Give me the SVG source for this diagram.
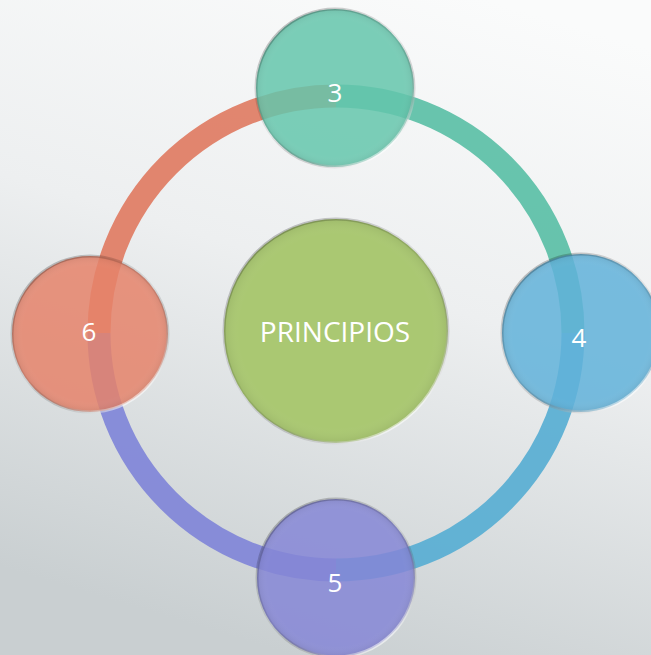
<svg xmlns="http://www.w3.org/2000/svg" width="651" height="655" viewBox="0 0 651 655">
  <defs>
    <linearGradient id="bg" x1="0.75" y1="0" x2="0.45" y2="1">
      <stop offset="0" stop-color="#fafbfb"/>
      <stop offset="0.45" stop-color="#edeff0"/>
      <stop offset="1" stop-color="#c9cfd1"/>
    </linearGradient>
    <linearGradient id="rim" x1="0.2" y1="0.1" x2="0.8" y2="0.9">
      <stop offset="0" stop-color="#000" stop-opacity="0.22"/>
      <stop offset="0.5" stop-color="#000" stop-opacity="0.06"/>
      <stop offset="1" stop-color="#fff" stop-opacity="0.55"/>
    </linearGradient>
    <radialGradient id="shade" cx="0.5" cy="0.5" r="0.5">
      <stop offset="0.86" stop-color="#fff" stop-opacity="0"/>
      <stop offset="1" stop-color="#000" stop-opacity="0.07"/>
    </radialGradient>
    <style>
      .arc { fill: none; stroke-width: 23; stroke-linecap: butt; opacity: 0.92; }
      .sat { opacity: 0.85; }
      .rim { fill: url(#shade); stroke: url(#rim); stroke-width: 3; }
      .lbl { font-family: "Open Sans", "Liberation Sans", sans-serif; fill: #ffffff; text-anchor: middle; }
      .num { font-size: 26px; }
      .main { font-size: 28px; }
    </style>
  </defs>
  <rect x="0" y="0" width="651" height="655" fill="url(#bg)"/>

  <g id="connectors">
    <path class="arc" d="M 336 96 A 237 237 0 0 1 573 333" stroke="#5bbfa6"/>
    <path class="arc" d="M 573 333 A 237 237 0 0 1 336 570" stroke="#58aed3"/>
    <path class="arc" d="M 336 570 A 237 237 0 0 1 99 333" stroke="#8085d8"/>
    <path class="arc" d="M 99 333 A 237 237 0 0 1 336 96" stroke="#e07c63"/>
  </g>

  <g id="node-principios">
    <circle cx="336" cy="331" r="112" fill="#aac872"/>
    <circle class="rim" cx="336" cy="331" r="112"/>
    <text class="lbl main" x="335" y="342">PRINCIPIOS</text>
  </g>

  <g id="node-3">
    <circle class="sat" cx="335" cy="88" r="79" fill="#64c5ab"/>
    <circle class="rim" cx="335" cy="88" r="79"/>
    <text class="lbl num" x="335" y="102">3</text>
  </g>

  <g id="node-4">
    <circle class="sat" cx="581" cy="333" r="79" fill="#60b2d9"/>
    <circle class="rim" cx="581" cy="333" r="79"/>
    <text class="lbl num" x="579" y="347">4</text>
  </g>

  <g id="node-5">
    <circle class="sat" cx="336" cy="578" r="79" fill="#8586d6"/>
    <circle class="rim" cx="336" cy="578" r="79"/>
    <text class="lbl num" x="335" y="592">5</text>
  </g>

  <g id="node-6">
    <circle class="sat" cx="90" cy="334" r="78" fill="#e5826a"/>
    <circle class="rim" cx="90" cy="334" r="78"/>
    <text class="lbl num" x="89" y="341">6</text>
  </g>
</svg>
